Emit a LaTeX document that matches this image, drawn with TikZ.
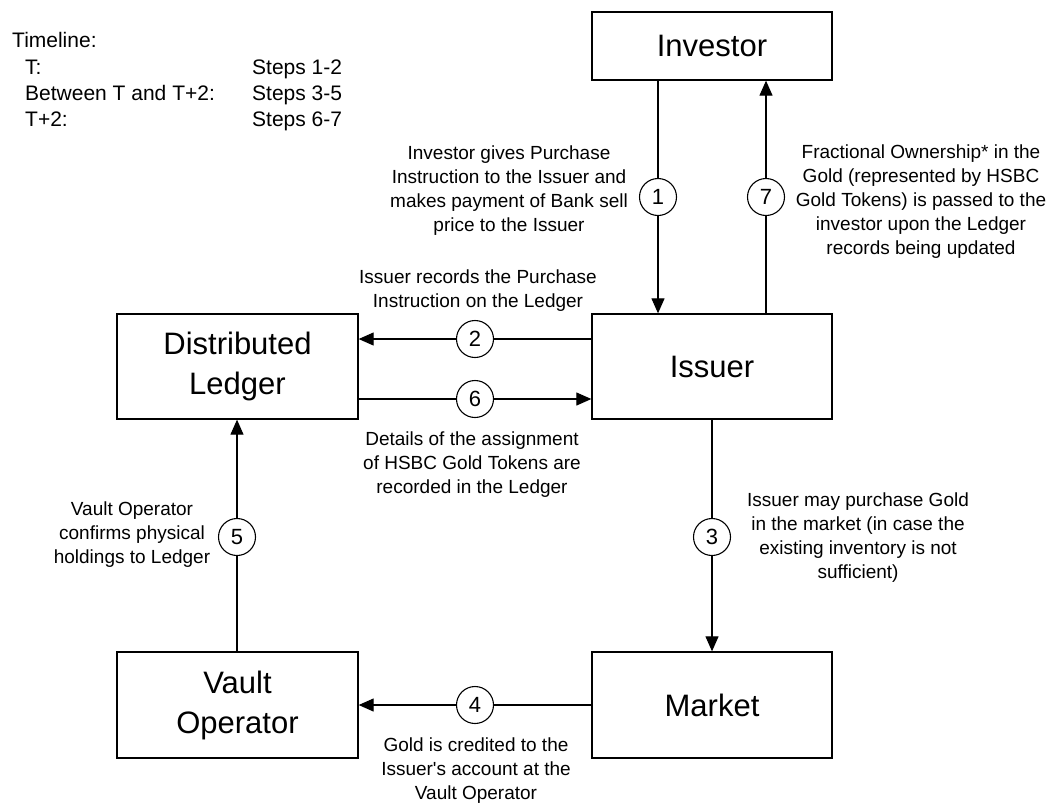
\documentclass[tikz,border=0pt]{standalone}
\usepackage{fontspec}
\setmainfont{Liberation Sans}
\usetikzlibrary{arrows.meta}

\tikzset{
  party/.style={draw, line width=1.3pt, fill=white, align=center, inner sep=0pt,
    font=\fontsize{31}{40}\selectfont},
  stepno/.style={draw, circle, line width=1.1pt, fill=white, minimum size=37pt, inner sep=0pt,
    font=\fontsize{22}{22}\selectfont},
  note/.style={align=center, inner sep=0pt, font=\fontsize{19}{24}\selectfont},
  tline/.style={anchor=base west, inner sep=0pt, font=\fontsize{21}{26}\selectfont},
  flow/.style={line width=1.1pt},
  flowarr/.style={line width=1.1pt, -{Triangle[length=15pt,width=13pt]}}
}

\begin{document}
\begin{tikzpicture}[x=1pt,y=-1pt]
  \useasboundingbox[fill=white] (0,0) rectangle (1048,803);

  % participants
  \node[party, minimum width=240pt, minimum height=68pt]  (investor) at (712,46)    {Investor};
  \node[party, minimum width=240pt, minimum height=105pt] (issuer)   at (712,366.5) {Issuer};
  \node[party, minimum width=241pt, minimum height=105pt] (ledger)   at (237.5,366.5) {Distributed\\Ledger};
  \node[party, minimum width=241pt, minimum height=106pt] (vault)    at (237.5,705) {Vault\\Operator};
  \node[party, minimum width=240pt, minimum height=106pt] (market)   at (712,705)   {Market};

  % numbered steps
  \node[stepno] (s1) at (658,197) {1};
  \node[stepno] (s7) at (766,197) {7};
  \node[stepno] (s2) at (475,339) {2};
  \node[stepno] (s6) at (475,399) {6};
  \node[stepno] (s3) at (712,537) {3};
  \node[stepno] (s5) at (237,537) {5};
  \node[stepno] (s4) at (475,705) {4};

  % flows
  \draw[flow]    (investor.south -| s1) -- (s1);
  \draw[flowarr] (s1) -- (issuer.north -| s1);

  \draw[flow]    (issuer.north -| s7) -- (s7);
  \draw[flowarr] (s7) -- (investor.south -| s7);

  \draw[flow]    (issuer.west |- s2) -- (s2);
  \draw[flowarr] (s2) -- (ledger.east |- s2);

  \draw[flow]    (ledger.east |- s6) -- (s6);
  \draw[flowarr] (s6) -- (issuer.west |- s6);

  \draw[flow]    (issuer.south -| s3) -- (s3);
  \draw[flowarr] (s3) -- (market.north -| s3);

  \draw[flow]    (market.west |- s4) -- (s4);
  \draw[flowarr] (s4) -- (vault.east |- s4);

  \draw[flow]    (vault.north -| s5) -- (s5);
  \draw[flowarr] (s5) -- (ledger.south -| s5);

  % step descriptions
  \node[note] (n1) at (509,190.5) {Investor gives Purchase\\Instruction to the Issuer and\\makes payment of Bank sell\\price to the Issuer};
  \node[note] (n2) at (478,290.5) {Issuer records the Purchase\\Instruction on the Ledger};
  \node[note] (n6) at (472,465) {Details of the assignment\\of HSBC Gold Tokens are\\recorded in the Ledger};
  \node[note] (n7) at (921,202) {Fractional Ownership* in the\\Gold (represented by HSBC\\Gold Tokens) is passed to the\\investor upon the Ledger\\records being updated};
  \node[note] (n3) at (858,537.5) {Issuer may purchase Gold\\in the market (in case the\\existing inventory is not\\sufficient)};
  \node[note] (n5) at (132,534.5) {Vault Operator\\confirms physical\\holdings to Ledger};
  \node[note] (n4) at (476,771) {Gold is credited to the\\Issuer\textquotesingle s account at the\\Vault Operator};

  % timeline
  \node[tline] (tl)  at (12,47.5) {Timeline:};
  \node[tline] (t0)  at (25,74)   {T:};
  \node[tline] (t1)  at (25,100)  {Between T and T+2:};
  \node[tline] (t2)  at (25,126)  {T+2:};
  \node[tline] (st0) at (252,74)  {Steps 1-2};
  \node[tline] (st1) at (252,100) {Steps 3-5};
  \node[tline] (st2) at (252,126) {Steps 6-7};
\end{tikzpicture}
\end{document}
